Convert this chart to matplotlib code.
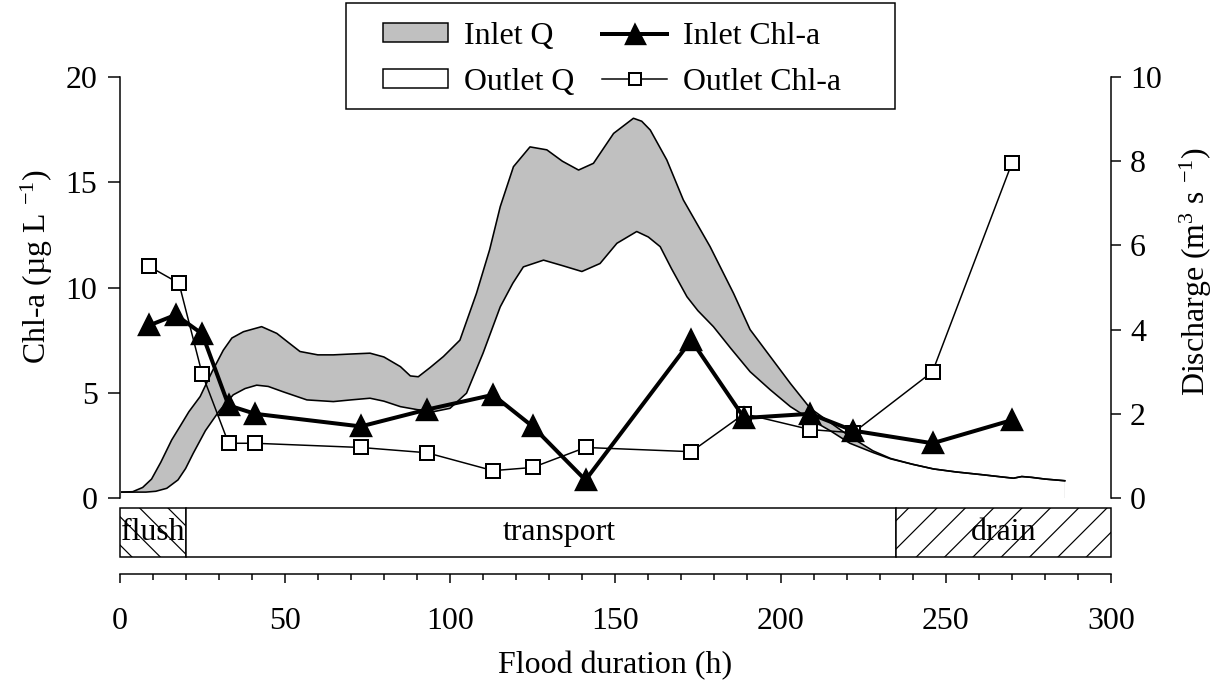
"""
Chl-a and discharge over a flood event, with flood phase bar.
"""
import matplotlib
matplotlib.use("Agg")
import matplotlib.pyplot as plt
from matplotlib.patches import Patch, Rectangle
from matplotlib.lines import Line2D
from matplotlib.ticker import MultipleLocator

# discharge (m3 s-1) vs flood duration (h)
inlet_q_t = [0.7, 4, 7, 9.7, 12.5, 15.8, 18.3, 21, 24.4, 28, 31.4, 34, 37.5, 43, 47.6, 51, 54.6, 60,
             64.7, 70, 75.8, 80, 85, 88, 90.4, 94, 98, 103, 108, 112, 115.2, 119.2, 124.2, 129.3, 134,
             138.9, 143.4, 149.5, 155.5, 158, 160.6, 165.6, 170.6, 178.7, 185.8, 190.8, 196.9, 203,
             209, 214, 221, 228, 233.3, 240, 246.3, 253, 261.4, 267, 270.5, 273, 276, 280, 286]
inlet_q = [0.14, 0.15, 0.25, 0.45, 0.85, 1.38, 1.70, 2.05, 2.41, 3.0, 3.51, 3.8, 3.95, 4.07, 3.91, 3.7,
           3.48, 3.40, 3.40, 3.42, 3.44, 3.35, 3.12, 2.9, 2.88, 3.1, 3.36, 3.75, 4.86, 5.9, 6.92, 7.87,
           8.34, 8.27, 8.0, 7.79, 7.95, 8.66, 9.02, 8.95, 8.74, 8.03, 7.08, 5.97, 4.86, 4.0, 3.36, 2.72,
           2.13, 1.85, 1.46, 1.12, 0.94, 0.8, 0.69, 0.62, 0.55, 0.5, 0.47, 0.51, 0.49, 0.45, 0.41]

outlet_q_t = [0.7, 8, 11, 14.3, 16, 17.7, 20, 22.3, 26, 30, 34.4, 38, 41.5, 45, 49.6, 56.7, 64.7, 70,
              75.8, 80, 85, 90, 95, 100, 105, 110, 115.2, 119, 122.2, 128.3, 134, 139.9, 145.4, 150.5,
              156.5, 160, 163.6, 167, 171.7, 175, 179.7, 185, 190.8, 196.9, 203, 209, 215, 221, 228,
              233.3, 240, 246.3, 253, 261.4, 267, 270.5, 273, 276, 280, 286]
outlet_q = [0.14, 0.14, 0.16, 0.23, 0.33, 0.43, 0.7, 1.06, 1.6, 2.05, 2.45, 2.6, 2.68, 2.65, 2.52, 2.33,
            2.29, 2.33, 2.37, 2.3, 2.17, 2.1, 2.05, 2.13, 2.49, 3.44, 4.54, 5.1, 5.49, 5.65, 5.52, 5.38,
            5.57, 6.05, 6.33, 6.2, 5.97, 5.45, 4.78, 4.45, 4.07, 3.55, 3.0, 2.57, 2.17, 1.87, 1.6, 1.3,
            1.08, 0.93, 0.8, 0.69, 0.62, 0.55, 0.5, 0.47, 0.51, 0.49, 0.45, 0.41]

# Chl-a (ug L-1) samples
inlet_chl_t = [9, 17, 25, 33, 41, 73, 93, 113, 125, 141, 173, 189, 209, 222, 246, 270]
inlet_chl = [8.2, 8.7, 7.8, 4.4, 4.0, 3.4, 4.2, 4.9, 3.4, 0.85, 7.5, 3.8, 4.0, 3.2, 2.6, 3.7]
outlet_chl_t = [9, 18, 25, 33, 41, 73, 93, 113, 125, 141, 173, 189, 209, 222, 246, 270]
outlet_chl = [11.0, 10.2, 5.9, 2.6, 2.6, 2.4, 2.15, 1.3, 1.45, 2.4, 2.2, 4.0, 3.25, 3.1, 6.0, 15.9]

# flood phases
phase_names = ["flush", "transport", "drain"]
phase_start = [0, 20, 235]
phase_end = [20, 235, 300]
phase_hatch = ["\\\\", "", "//"]
phase_label_x = [10, 133, 267.5]

DPI = 170
PX = 72 / DPI  # one pixel in points

plt.rcParams["font.family"] = ["Liberation Serif", "DejaVu Serif"]
plt.rcParams["mathtext.fontset"] = "custom"
plt.rcParams["mathtext.rm"] = "Liberation Serif"
plt.rcParams["mathtext.it"] = "Liberation Serif:italic"
plt.rcParams["mathtext.default"] = "regular"
plt.rcParams["font.size"] = 13.5
plt.rcParams["hatch.linewidth"] = 1.2 * PX
plt.rcParams["axes.linewidth"] = 1.5 * PX

fig = plt.figure(figsize=(1222 / DPI, 684 / DPI), dpi=DPI)
left, width = 119.5 / 1222, 991.5 / 1222

ax = fig.add_axes([left, 1 - 498 / 684, width, 421 / 684])
ax2 = ax.twinx()
ax.set_zorder(ax2.get_zorder() + 1)
ax.patch.set_visible(False)

# discharge on right axis
ax2.fill_between(inlet_q_t, inlet_q, 0, facecolor="#c0c0c0", edgecolor="none")
ax2.fill_between(outlet_q_t, outlet_q, 0, facecolor="white", edgecolor="none")
ax2.plot(inlet_q_t, inlet_q, color="black", lw=1.6 * PX)
ax2.plot(outlet_q_t, outlet_q, color="black", lw=1.6 * PX)

# chl-a on left axis
ax.plot(outlet_chl_t, outlet_chl, color="black", lw=1.5 * PX, marker="s", ms=14 * PX,
        mfc="white", mec="black", mew=2 * PX)
ax.plot(inlet_chl_t, inlet_chl, color="black", lw=4 * PX, marker="^", ms=20 * PX,
        mfc="black", mec="black")

ax.set_xlim(0, 300)
ax.set_ylim(0, 20)
ax2.set_ylim(0, 10)
for a in (ax, ax2):
    a.spines["top"].set_visible(False)
    a.spines["bottom"].set_visible(False)
ax.spines["right"].set_visible(False)
ax2.spines["left"].set_visible(False)
ax.tick_params(axis="x", bottom=False, labelbottom=False)
ax.set_yticks([0, 5, 10, 15, 20])
ax2.set_yticks([0, 2, 4, 6, 8, 10])
ax.tick_params(axis="y", direction="out", length=12 * PX, width=1.5 * PX, pad=10 * PX)
ax2.tick_params(axis="y", direction="out", length=10 * PX, width=1.5 * PX, pad=9 * PX)
ax.set_ylabel(r"Chl-a (µg L $^{-1}$)")
ax.yaxis.set_label_coords((55 - 119.5) / 991.5, 0.55)
ax2.set_ylabel(r"Discharge (m$^{3}$ s $^{-1}$)")
ax2.yaxis.set_label_coords((1178 - 119.5) / 991.5, 0.537)

# phase bar
axp = fig.add_axes([left, 1 - 557 / 684, width, 49 / 684])
axp.set_xlim(0, 300)
axp.set_ylim(0, 1)
for name, s, e, h, lx in zip(phase_names, phase_start, phase_end, phase_hatch, phase_label_x):
    axp.barh(0.5, e - s, left=s, height=1, facecolor="white", edgecolor="black",
             hatch=h, lw=1.5 * PX, clip_on=False)
    axp.text(lx, 0.5, name, ha="center", va="center")
axp.axis("off")

# separate time axis
axx = fig.add_axes([left, 1 - 574 / 684, width, 0.0001])
axx.patch.set_visible(False)
for s in ("top", "left", "right"):
    axx.spines[s].set_visible(False)
axx.set_xlim(0, 300)
axx.set_yticks([])
axx.xaxis.set_major_locator(MultipleLocator(50))
axx.xaxis.set_minor_locator(MultipleLocator(10))
axx.tick_params(axis="x", which="major", direction="out", length=9 * PX, width=1.5 * PX, pad=24 * PX)
axx.tick_params(axis="x", which="minor", direction="out", length=6 * PX, width=1.5 * PX)
axx.set_xlabel("Flood duration (h)", labelpad=15 * PX)

# legend
handles = [
    Patch(facecolor="#c0c0c0", edgecolor="black", lw=1.5 * PX),
    Patch(facecolor="white", edgecolor="black", lw=1.5 * PX),
    Line2D([], [], color="black", lw=4 * PX, marker="^", ms=19 * PX, mfc="black"),
    Line2D([], [], color="black", lw=1.5 * PX, marker="s", ms=12 * PX, mfc="white", mew=2 * PX),
]
labels = ["Inlet Q", "Outlet Q", "Inlet Chl-a", "Outlet Chl-a"]
fig.legend(handles, labels, loc="upper left", bbox_to_anchor=(383 / 1222, 1 - 22 / 684),
           ncol=2, frameon=False, borderpad=0, borderaxespad=0, handlelength=2.05,
           handleheight=0.55, handletextpad=0.5, columnspacing=0.86, labelspacing=0.52)
fig.patches.append(Rectangle((346 / 1222, 1 - 109 / 684), 549 / 1222, 106 / 684,
                             transform=fig.transFigure, fill=False, edgecolor="black",
                             lw=1.5 * PX))

fig.savefig("out.png", dpi=DPI)
